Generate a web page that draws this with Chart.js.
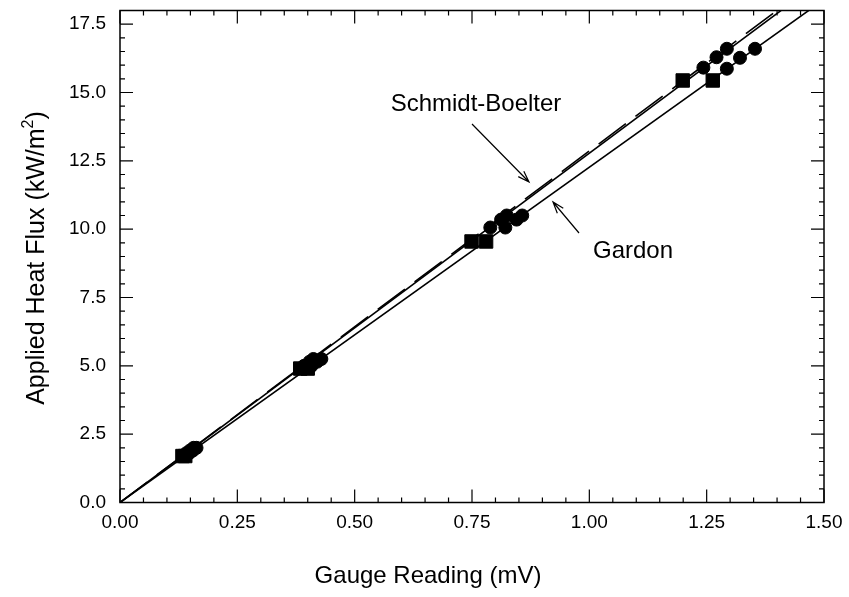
<!DOCTYPE html>
<html lang="en">
<head>
<meta charset="UTF-8">
<title>Heat flux gauge calibration</title>
<script src="https://cdn.jsdelivr.net/npm/chart.js"></script>
<style>
  html, body { margin: 0; padding: 0; background: #fff; }
  #wrap { width: 849px; height: 597px; }
</style>
</head>
<body>
<div id="wrap"><canvas id="chart" width="849" height="597"></canvas></div>
<script>
// calibration points (gauge reading mV, applied flux kW/m2)
const sbSquareX = [0.133, 0.384, 0.749, 1.199];
const sbSquareY = [1.70, 4.90, 9.55, 15.44];
const gdSquareX = [0.139, 0.400, 0.780, 1.263];
const gdSquareY = [1.70, 4.90, 9.55, 15.44];

const sbCircleX = [0.141, 0.149, 0.157, 0.392, 0.404, 0.412, 0.789, 0.812, 0.824, 1.243, 1.271, 1.293];
const sbCircleY = [1.80, 1.90, 2.00, 5.00, 5.15, 5.25, 10.06, 10.35, 10.50, 15.91, 16.29, 16.60];
const gdCircleX = [0.147, 0.155, 0.163, 0.408, 0.420, 0.429, 0.821, 0.845, 0.857, 1.293, 1.321, 1.353];
const gdCircleY = [1.80, 1.90, 2.00, 5.00, 5.15, 5.25, 10.06, 10.35, 10.50, 15.87, 16.27, 16.60];

// fitted lines, end points
const sbFitX = [0, 1.5];
const sbFitY = [0, 19.17];
const sbDashX = [0, 1.5];
const sbDashY = [0, 19.29];
const gdFitX = [0, 1.5];
const gdFitY = [0, 18.40];

const xTicks = [0, 0.25, 0.5, 0.75, 1.0, 1.25, 1.5];
const yTicks = [0, 2.5, 5.0, 7.5, 10.0, 12.5, 15.0, 17.5];

const FONT = "'Liberation Sans', Arial, Helvetica, sans-serif";

function pts(xs, ys) {
  return xs.map((x, i) => ({ x: x, y: ys[i] }));
}

function arrow(ctx, x1, y1, x2, y2) {
  const ang = Math.atan2(y2 - y1, x2 - x1);
  const h = 12, w = 0.33;
  ctx.lineWidth = 1.2;
  ctx.beginPath();
  ctx.moveTo(x1, y1); ctx.lineTo(x2, y2);
  ctx.moveTo(x2 - h * Math.cos(ang - w), y2 - h * Math.sin(ang - w));
  ctx.lineTo(x2, y2);
  ctx.lineTo(x2 - h * Math.cos(ang + w), y2 - h * Math.sin(ang + w));
  ctx.stroke();
}

// frame, inward ticks on all four sides, axis titles, labels with arrows
const decor = {
  id: 'decor',
  afterDraw(chart) {
    const ctx = chart.ctx;
    const a = chart.chartArea;
    const xs = chart.scales.x, ys = chart.scales.y;
    ctx.save();
    ctx.strokeStyle = '#000';
    ctx.fillStyle = '#000';
    ctx.lineWidth = 1.5;
    ctx.strokeRect(a.left, a.top, a.right - a.left, a.bottom - a.top);

    ctx.lineWidth = 1.2;
    ctx.beginPath();
    for (let i = 0; i <= 30; i++) {
      const px = xs.getPixelForValue(i * 0.05);
      const len = (i % 5 === 0) ? 13 : 5;
      ctx.moveTo(px, a.bottom); ctx.lineTo(px, a.bottom - len);
      ctx.moveTo(px, a.top); ctx.lineTo(px, a.top + len);
    }
    for (let i = 0; i <= 36; i++) {
      const py = ys.getPixelForValue(i * 0.5);
      const len = (i % 5 === 0) ? 13 : 5;
      ctx.moveTo(a.left, py); ctx.lineTo(a.left + len, py);
      ctx.moveTo(a.right, py); ctx.lineTo(a.right - len, py);
    }
    ctx.stroke();

    // axis titles
    ctx.textBaseline = 'middle';
    ctx.textAlign = 'center';
    ctx.font = '24px ' + FONT;
    ctx.fillText('Gauge Reading (mV)', 428, 576);

    ctx.save();
    ctx.translate(37, 258);
    ctx.rotate(-Math.PI / 2);
    const main = 'Applied Heat Flux (kW/m';
    ctx.font = '25px ' + FONT;
    const w1 = ctx.measureText(main).width;
    const w3 = ctx.measureText(')').width;
    ctx.font = '16px ' + FONT;
    const w2 = ctx.measureText('2').width;
    let x0 = -(w1 + w2 + w3) / 2;
    ctx.textAlign = 'left';
    ctx.font = '25px ' + FONT;
    ctx.fillText(main, x0, 0);
    ctx.font = '16px ' + FONT;
    ctx.fillText('2', x0 + w1, -8);
    ctx.font = '25px ' + FONT;
    ctx.fillText(')', x0 + w1 + w2, 0);
    ctx.restore();

    // annotations
    ctx.font = '24px ' + FONT;
    ctx.textAlign = 'center';
    ctx.fillText('Schmidt-Boelter', 476, 104);
    ctx.fillText('Gardon', 633, 251);
    arrow(ctx, 472, 124, 529, 182);
    arrow(ctx, 579, 233, 553, 202);
    ctx.restore();
  }
};

new Chart(document.getElementById('chart'), {
  type: 'scatter',
  data: {
    datasets: [
      { type: 'line', data: pts(sbFitX, sbFitY), borderColor: '#000', borderWidth: 1.6, pointRadius: 0, fill: false },
      { type: 'line', data: pts(sbDashX, sbDashY), borderColor: '#000', borderWidth: 1.6, borderDash: [34, 12], pointRadius: 0, fill: false },
      { type: 'line', data: pts(gdFitX, gdFitY), borderColor: '#000', borderWidth: 1.6, pointRadius: 0, fill: false },
      { data: pts(sbSquareX, sbSquareY), pointStyle: 'rect', pointRadius: 9.5, backgroundColor: '#000', borderColor: '#000' },
      { data: pts(gdSquareX, gdSquareY), pointStyle: 'rect', pointRadius: 9.5, backgroundColor: '#000', borderColor: '#000' },
      { data: pts(sbCircleX, sbCircleY), pointStyle: 'circle', pointRadius: 6.5, backgroundColor: '#000', borderColor: '#000' },
      { data: pts(gdCircleX, gdCircleY), pointStyle: 'circle', pointRadius: 6.5, backgroundColor: '#000', borderColor: '#000' }
    ]
  },
  options: {
    responsive: false,
    animation: false,
    layout: { padding: { left: 0, right: 25, top: 10, bottom: 0 } },
    plugins: { legend: { display: false }, tooltip: { enabled: false } },
    scales: {
      x: {
        type: 'linear', min: 0, max: 1.5,
        afterFit(s) { s.height = 94.5; s.paddingLeft = 0; s.paddingRight = 0; },
        afterBuildTicks(s) { s.ticks = xTicks.map(v => ({ value: v })); },
        grid: { display: false, drawTicks: false },
        border: { display: false },
        ticks: {
          padding: 9, color: '#000', font: { family: FONT, size: 19 },
          callback: v => v.toFixed(2)
        }
      },
      y: {
        type: 'linear', min: 0, max: 18,
        afterFit(s) { s.width = 120; s.paddingTop = 0; s.paddingBottom = 0; },
        afterBuildTicks(s) { s.ticks = yTicks.map(v => ({ value: v })); },
        grid: { display: false, drawTicks: false },
        border: { display: false },
        ticks: {
          padding: 14, color: '#000', font: { family: FONT, size: 19 },
          callback: v => v.toFixed(1)
        }
      }
    }
  },
  plugins: [decor]
});
</script>
</body>
</html>
